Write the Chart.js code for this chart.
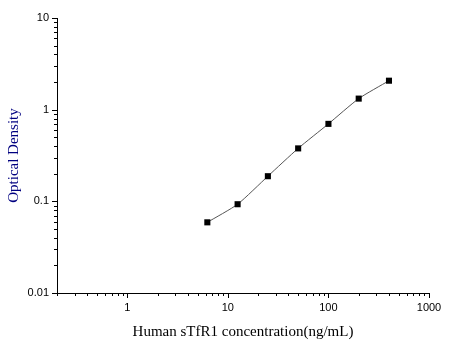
<!DOCTYPE html>
<html>
<head>
<meta charset="utf-8">
<script src="https://cdn.jsdelivr.net/npm/chart.js@4/dist/chart.umd.min.js"></script>
<style>
  html, body { margin: 0; padding: 0; background: #fff; }
  #wrap { width: 454px; height: 346px; }
</style>
</head>
<body>
<div id="wrap"><canvas id="graph1"></canvas></div>
<script>
// concentration (ng/mL) and optical density
const concentrations = [6.25, 12.5, 25, 50, 100, 200, 400];
const densities = [0.059, 0.093, 0.188, 0.378, 0.70, 1.32, 2.07];

const xTickLabels = ['1', '10', '100', '1000'];
const yTickLabels = ['0.01', '0.1', '1', '10'];

// log ticks 1..9 per decade, labelled only on the powers of ten
function logTicks(min, max) {
    const out = [];
    let e = Math.floor(Math.log10(min));
    while (Math.pow(10, e) <= max) {
        for (let s = 1; s < 10; s++) {
            const v = +(s * Math.pow(10, e)).toPrecision(6);
            if (v >= min - 1e-9 && v <= max + 1e-9) out.push({ value: v, major: s === 1 });
        }
        e++;
    }
    return out;
}

const tickMarks = {
    id: 'tickMarks',
    afterDraw(chart) {
        const ctx = chart.ctx;
        const xs = chart.scales.x, ys = chart.scales.y;
        const area = chart.chartArea;
        ctx.save();
        ctx.strokeStyle = '#000';
        ctx.lineWidth = 1;
        ctx.beginPath();
        xs.ticks.forEach(t => {
            const px = Math.round(xs.getPixelForValue(t.value)) + 0.5;
            ctx.moveTo(px, area.bottom);
            ctx.lineTo(px, area.bottom + (t.major ? 5 : 3));
        });
        ys.ticks.forEach(t => {
            const py = Math.round(ys.getPixelForValue(t.value)) + 0.5;
            ctx.moveTo(area.left, py);
            ctx.lineTo(area.left - (t.major ? 5 : 3), py);
        });
        ctx.stroke();
        ctx.restore();
    }
};

new Chart(document.getElementById('graph1'), {
    type: 'line',
    data: {
        datasets: [{
            data: concentrations.map((c, i) => ({ x: c, y: densities[i] })),
            borderColor: '#555555',
            borderWidth: 1,
            tension: 0.2,
            pointStyle: 'rect',
            pointRadius: 4.3,
            pointBackgroundColor: '#000',
            pointBorderColor: '#000',
            pointBorderWidth: 0
        }]
    },
    options: {
        responsive: true,
        maintainAspectRatio: false,
        animation: false,
        layout: { padding: { left: 0, right: 25, top: 18, bottom: 0 } },
        plugins: {
            legend: { display: false },
            tooltip: { enabled: false }
        },
        scales: {
            x: {
                type: 'logarithmic',
                min: 0.2,
                max: 1000,
                afterBuildTicks: s => { s.ticks = logTicks(0.2, 1000); },
                afterFit: s => { s.height = 53; },
                grid: { display: false, drawTicks: false },
                border: { display: true, color: '#000', width: 1 },
                ticks: {
                    autoSkip: false,
                    maxRotation: 0,
                    padding: 8,
                    color: '#000',
                    font: { family: 'Liberation Sans, Arial', size: 11 },
                    callback: function (v) {
                        const k = Math.round(Math.log10(v));
                        return Math.abs(Math.log10(v) - k) < 1e-6 ? xTickLabels[k] : '';
                    }
                },
                title: {
                    display: true,
                    text: 'Human sTfR1 concentration(ng/mL)',
                    color: '#000',
                    font: { family: 'Liberation Serif, Times New Roman', size: 15 },
                    padding: { top: 2, bottom: 5 }
                }
            },
            y: {
                type: 'logarithmic',
                min: 0.01,
                max: 10,
                afterBuildTicks: s => { s.ticks = logTicks(0.01, 10); },
                afterFit: s => { s.width = 57; },
                grid: { display: false, drawTicks: false },
                border: { display: true, color: '#000', width: 1 },
                ticks: {
                    autoSkip: false,
                    padding: 8,
                    color: '#000',
                    font: { family: 'Liberation Sans, Arial', size: 11 },
                    callback: function (v) {
                        const k = Math.round(Math.log10(v));
                        return Math.abs(Math.log10(v) - k) < 1e-6 ? yTickLabels[k + 2] : '';
                    }
                },
                title: {
                    display: true,
                    text: 'Optical Density',
                    color: '#000080',
                    font: { family: 'Liberation Serif, Times New Roman', size: 15 },
                    padding: { top: 5.5, bottom: 0 }
                }
            }
        }
    },
    plugins: [tickMarks]
});
</script>
</body>
</html>
